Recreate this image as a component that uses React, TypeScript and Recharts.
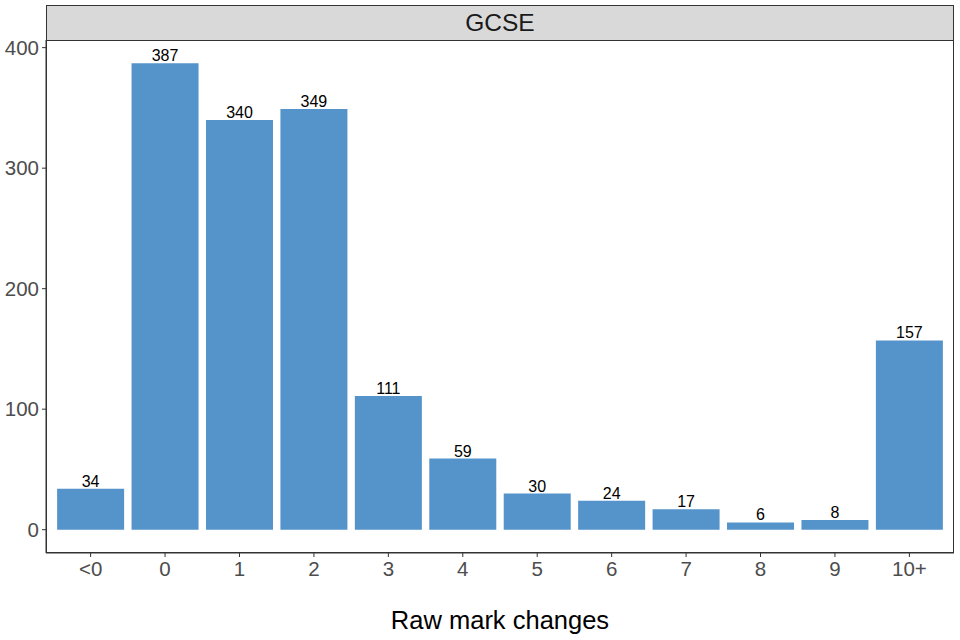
import { Bar, BarChart, LabelList, XAxis, YAxis } from "recharts";

const categories = ["<0", "0", "1", "2", "3", "4", "5", "6", "7", "8", "9", "10+"];
const counts = [34, 387, 340, 349, 111, 59, 30, 24, 17, 6, 8, 157];
const yTicks = [0, 100, 200, 300, 400];

const data = categories.map((c, i) => ({ change: c, count: counts[i] }));

const FONT = "'Liberation Sans', Arial, sans-serif";
const TICK = { fill: "#4D4D4D", fontSize: 20.5, fontFamily: FONT };

const PANEL = { left: 46, top: 40, width: 908, height: 513 };

export default function App() {
    return (
        <div style={{ position: "fixed", left: 0, top: 0, width: 960, height: 640, background: "#fff", fontFamily: FONT }}>
            <BarChart
                width={960}
                height={640}
                data={data}
                margin={{ top: PANEL.top, right: 960 - PANEL.left - PANEL.width, left: 0, bottom: 0 }}
                barCategoryGap="5%"
            >
                <XAxis
                    dataKey="change"
                    height={640 - PANEL.top - PANEL.height}
                    padding={{ left: 7.4, right: 7.4 }}
                    tick={TICK}
                    tickSize={4}
                    tickMargin={4}
                    axisLine={{ stroke: "#333333" }}
                    tickLine={{ stroke: "#333333" }}
                    label={{ value: "Raw mark changes", position: "insideBottom", offset: 11, fill: "#000", fontSize: 25.5, fontFamily: FONT }}
                />
                <YAxis
                    width={PANEL.left}
                    domain={[-19.35, 406.35]}
                    allowDataOverflow
                    ticks={yTicks}
                    tick={TICK}
                    tickSize={4}
                    tickMargin={3}
                    axisLine={{ stroke: "#333333" }}
                    tickLine={{ stroke: "#333333" }}
                />
                <Bar dataKey="count" fill="#5494CB" isAnimationActive={false}>
                    <LabelList dataKey="count" position="top" offset={2} fill="#000" fontSize={16} fontFamily={FONT} />
                </Bar>
            </BarChart>
            <div
                style={{
                    position: "absolute",
                    left: PANEL.left,
                    top: PANEL.top,
                    width: PANEL.width,
                    height: PANEL.height,
                    border: "1px solid #333333",
                    boxSizing: "border-box",
                    pointerEvents: "none",
                }}
            />
            <div
                style={{
                    position: "absolute",
                    left: PANEL.left,
                    top: 5,
                    width: PANEL.width,
                    height: PANEL.top - 5 + 1,
                    background: "#D9D9D9",
                    border: "1px solid #333333",
                    boxSizing: "border-box",
                    display: "flex",
                    alignItems: "center",
                    justifyContent: "center",
                    fontSize: 24.5,
                    color: "#1A1A1A",
                }}
            >
                GCSE
            </div>
        </div>
    );
}
